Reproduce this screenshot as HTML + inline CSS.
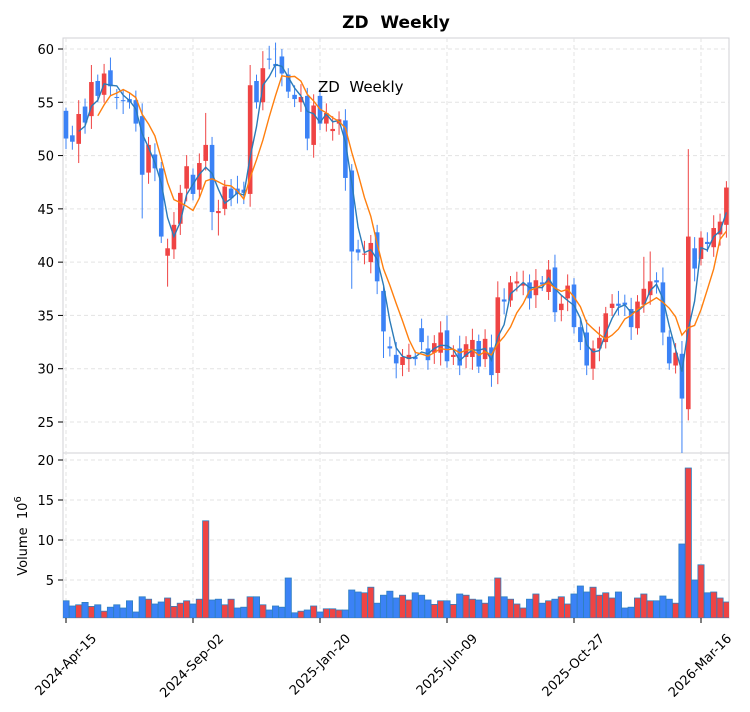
<!DOCTYPE html>
<html><head><meta charset="utf-8"><style>
html,body{margin:0;padding:0;background:#fff;width:750px;height:712px;overflow:hidden}
svg text{font-family:"DejaVu Sans","Liberation Sans",sans-serif;fill:#000}
</style></head><body>
<svg id="c" width="750" height="712" xmlns="http://www.w3.org/2000/svg"></svg>
<script>
const oc=[[54.2,51.6],[51.9,51.3],[51.1,53.9],[54.6,53.1],[53.7,56.9],[57,55.6],[55.7,57.7],[58,56.5],[55.5,55.4],[55.2,55.1],[55.3,55],[55.2,53],[53.7,48.2],[48.4,51],[50.1,48.8],[48.8,42.4],[40.6,41.3],[41.2,43.5],[43.6,46.5],[46.9,49],[48.2,46.4],[46.8,49.3],[49.5,51],[51,44.7],[44.6,44.8],[45,47.1],[46.9,46],[46.9,46.4],[46.8,46.5],[46.4,56.6],[57,55],[55,58.2],[59.1,59],[58.6,58.4],[59.3,57.7],[57.6,56],[55.7,55.3],[55,55.5],[55.6,51.6],[51,54.7],[55.6,53],[53,54],[52.3,52.5],[53,53.4],[53.3,47.9],[48.6,41],[41.2,40.9],[40.7,40.8],[40,41.8],[42.8,38.2],[37.3,33.5],[32.1,31.9],[31.3,30.5],[30.35,31.1],[30.9,31.3],[31.1,30.9],[33.8,32.5],[31.9,30.8],[31.5,32.4],[31.5,33.4],[33.6,30.7],[31.1,31.3],[31.9,30.3],[31.1,32.3],[31.1,32.7],[32.6,30.2],[30.9,32.8],[32,29.4],[29.6,36.7],[36.5,36.3],[36.4,38.1],[38,38.2],[37.8,38],[38.1,36.6],[36.9,38.3],[38.1,37.9],[37.2,39.3],[39.5,35.3],[35.5,36.1],[36.6,37.8],[37.9,33.9],[33.9,32.5],[33.4,30.3],[30,31.9],[31.9,32.9],[32.5,35.2],[35.7,36.1],[36.1,35.9],[36.2,36],[35.6,33.9],[33.8,36.3],[36,37.5],[36.9,38.2],[38.3,38.1],[38.1,33.4],[33,30.5],[30.3,31.5],[31.4,27.2],[26.2,42.4],[41.3,39.4],[40.3,42.3],[41.9,41.7],[41.4,43.2],[42.6,43.8],[43.5,47]];
const hiO={0:54.5,2:55.2,4:58.5,22:54,29:58.5,31:59.8,33:60.6,34:60,49:43.5,60:35,68:38.2,98:50.6,94:39.5,92:41,91:40.5,104:47.6};
const loO={0:50.6,2:49.3,12:44.1,16:37.7,23:43,24:42.5,38:50.5,45:37.5,50:31,52:29.1,67:28.3,97:21.7};
const vol=[[2.4,0],[1.75,0],[1.9,1],[2.2,0],[1.7,1],[1.9,0],[1.1,1],[1.6,0],[1.9,0],[1.5,0],[2.4,0],[1.0,0],[2.9,0],[2.6,1],[2.0,0],[2.25,0],[2.75,1],[1.7,1],[2.1,1],[2.4,1],[2.0,0],[2.6,1],[12.4,1],[2.5,0],[2.6,0],[1.9,1],[2.6,1],[1.5,0],[1.6,0],[2.9,1],[2.9,0],[1.9,1],[1.25,0],[1.75,0],[1.6,0],[5.25,0],[0.9,0],[1.1,1],[1.25,0],[1.75,1],[1.0,0],[1.4,1],[1.4,1],[1.25,1],[1.25,0],[3.75,0],[3.5,0],[3.4,1],[4.1,1],[2.1,0],[3.1,0],[3.6,0],[2.75,0],[3.1,1],[2.5,1],[3.4,0],[3.1,0],[2.5,0],[1.95,1],[2.4,1],[2.4,0],[1.95,1],[3.25,0],[3.1,1],[2.6,1],[2.5,0],[2.1,1],[2.9,0],[5.25,1],[2.9,0],[2.6,1],[2.0,1],[1.5,1],[2.6,0],[3.25,1],[2.1,0],[2.4,1],[2.6,0],[2.9,1],[2.0,1],[3.25,0],[4.25,0],[3.5,0],[4.1,1],[3.1,1],[3.4,1],[2.75,1],[3.5,0],[1.5,0],[1.6,0],[2.75,1],[3.25,1],[2.4,1],[2.4,0],[3.0,0],[2.6,0],[2.1,1],[9.5,0],[19,1],[5.0,0],[6.9,1],[3.4,0],[3.5,1],[2.75,1],[2.25,1]];
const RED="#ef4444",BLUE="#3b82f6";
const X=i=>66+6.35*i, PY=p=>49+(60-p)*10.657, VY=v=>620-8*v;
let s='';
s+='<rect x="63" y="38" width="666" height="415" fill="#fff" stroke="#d0d0d6"/>';
s+='<rect x="63" y="453" width="666" height="165" fill="#fff" stroke="#d0d0d6"/>';
s+='<defs><clipPath id="cp"><rect x="63" y="38" width="666" height="415"/></clipPath><clipPath id="cv"><rect x="63" y="453" width="666" height="165"/></clipPath></defs>';
const xt=[[66,"2024-Apr-15"],[193,"2024-Sep-02"],[320,"2025-Jan-20"],[447,"2025-Jun-09"],[574,"2025-Oct-27"],[701,"2026-Mar-16"]];
for(const [x,l] of xt){
 s+=`<line x1="${x}" y1="38" x2="${x}" y2="618" stroke="#e3e3e3" stroke-dasharray="4,3"/>`;
 s+=`<line x1="${x}" y1="618" x2="${x}" y2="623" stroke="#000"/>`;
 s+=`<text x="${x+25}" y="633" font-size="13" text-anchor="end" transform="rotate(-45 ${x+25} 633)" dominant-baseline="hanging">${l}</text>`;
}
for(let p=25;p<=60;p+=5){const y=PY(p);
 s+=`<line x1="63" y1="${y}" x2="729" y2="${y}" stroke="#e3e3e3" stroke-dasharray="4,3"/>`;
 s+=`<line x1="58" y1="${y}" x2="63" y2="${y}" stroke="#000"/>`;
 s+=`<text x="54" y="${y+5}" font-size="13" text-anchor="end">${p}</text>`;}
for(let v=5;v<=20;v+=5){const y=VY(v);
 s+=`<line x1="63" y1="${y}" x2="729" y2="${y}" stroke="#e3e3e3" stroke-dasharray="4,3"/>`;
 s+=`<line x1="58" y1="${y}" x2="63" y2="${y}" stroke="#000"/>`;
 s+=`<text x="54" y="${y+5}" font-size="13" text-anchor="end">${v}</text>`;}
s+='<g clip-path="url(#cv)">';
vol.forEach(([v,r],i)=>{const x=X(i)-3.1;s+=`<rect x="${x}" y="${VY(v)}" width="6.2" height="${618-VY(v)}" fill="${r?RED:BLUE}" stroke="#2f7fc0" stroke-width="0.8"/>`;});
s+='</g>';
s+='<g clip-path="url(#cp)">';
oc.forEach(([o,c],i)=>{const x=X(i);const up=c>o;const col=up?RED:BLUE;
 const h=hiO[i]!==undefined?hiO[i]:Math.max(o,c)+0.6+((i*7)%5)*0.15;
 const l=loO[i]!==undefined?loO[i]:Math.min(o,c)-0.6-((i*11)%5)*0.15;
 s+=`<line x1="${x}" y1="${PY(h)}" x2="${x}" y2="${PY(l)}" stroke="${col}" stroke-width="1"/>`;
 const y1=PY(Math.max(o,c)),y2=PY(Math.min(o,c));
 s+=`<rect x="${x-2.3}" y="${y1}" width="4.6" height="${Math.max(1,y2-y1)}" fill="${col}"/>`;});
function ma(n,col){let pts=[];for(let i=n-1;i<oc.length;i++){let a=0;for(let k=0;k<n;k++)a+=oc[i-k][1];pts.push(X(i).toFixed(1)+','+PY(a/n).toFixed(1));}
 return `<polyline points="${pts.join(' ')}" fill="none" stroke="${col}" stroke-width="1.4"/>`;}
s+=ma(3,"#2b7bb9");s+=ma(6,"#ff7f0e");
s+='</g>';
s+='<text x="396" y="28" font-size="17" font-weight="bold" text-anchor="middle" xml:space="preserve">ZD  Weekly</text>';
s+='<text x="318" y="92" font-size="15" xml:space="preserve">ZD  Weekly</text>';
s+='<text transform="translate(27 536) rotate(-90)" font-size="13" text-anchor="middle" xml:space="preserve">Volume  10<tspan dy="-6" font-size="10">6</tspan></text>';
document.getElementById('c').innerHTML=s;
</script>
</body></html>
